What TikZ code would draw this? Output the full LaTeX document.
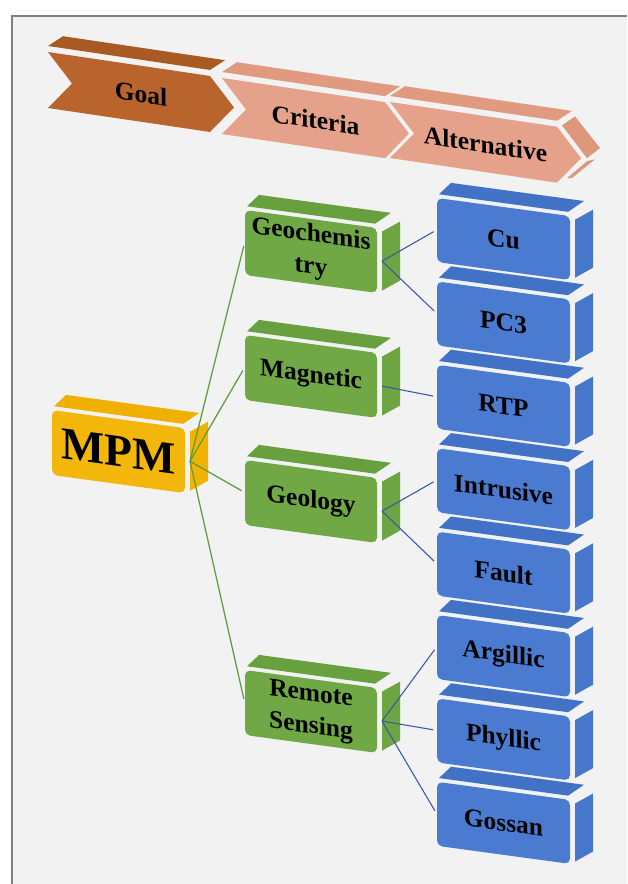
\documentclass[tikz,border=0pt]{standalone}
\usepackage{fontspec}
\setmainfont{Liberation Serif}
\usepackage{xcolor}
\definecolor{bgcol}{HTML}{F1F2F1}
\definecolor{framecol}{HTML}{808080}
\definecolor{goalcol}{HTML}{B8642C}
\definecolor{goalcoltop}{HTML}{A95A22}
\definecolor{headcol}{HTML}{E5A189}
\definecolor{headcoltop}{HTML}{E09A80}
\definecolor{headcolside}{HTML}{DD977C}
\definecolor{mpmcol}{HTML}{F3B70B}
\definecolor{mpmcoltop}{HTML}{EFB000}
\definecolor{mpmcolside}{HTML}{F2B300}
\definecolor{critcol}{HTML}{70A846}
\definecolor{critcoltop}{HTML}{69A03F}
\definecolor{critcolside}{HTML}{6DA543}
\definecolor{altcol}{HTML}{4A7BD0}
\definecolor{altcoltop}{HTML}{4272C6}
\definecolor{altcolside}{HTML}{4777CB}
\definecolor{greenln}{HTML}{5E9B3D}
\definecolor{blueln}{HTML}{3757A6}

\tikzset{
  boxface/.style={rounded corners=3pt, inner sep=0pt, align=center, transform shape,
    font=\fontsize{14.5}{18.5}\selectfont\bfseries},
  headtext/.style={transform shape, inner sep=0pt, font=\fontsize{14.5}{18.5}\selectfont\bfseries},
  tocrit/.style={draw=greenln, line width=0.7pt, shorten >=2pt},
  toalt/.style={draw=blueln, line width=0.6pt, shorten >=2pt}
}

% 3d block: name, x, y, width, height, colour, text
\newcommand{\blockbox}[7]{%
  \begin{scope}[shift={(#2,#3)},yslant=-0.136]
    \fill[#6top] (2,-4) -- (#4-2,-4) -- (#4+14,-17) -- (14,-17) -- cycle;
    \fill[#6side] (#4+5,3) -- (#4+23,-9.5) -- (#4+23,#5-15.5) -- (#4+5,#5-3) -- cycle;
    \node[boxface, fill=#6, minimum width=#4*0.02cm, minimum height=#5*0.02cm] (#1) at (#4/2,#5/2) {#7};
    \coordinate (#1-s) at (#4+5,#5/2);
  \end{scope}}

% header arrow: name, x, y, length, colour, text
\newcommand{\headarrow}[6]{%
  \begin{scope}[shift={(#2,#3)},yslant=-0.148]
    \fill[#5top] (0,-6) -- (#4,-6) -- (#4+15,-18) -- (15,-18) -- cycle;
    \fill[#5] (0,0) -- (#4,0) -- (#4+24,28) -- (#4,56) -- (0,56) -- (24,28) -- cycle;
    \node[headtext] (#1) at (#4/2+12,28) {#6};
  \end{scope}}

\begin{document}
\begin{tikzpicture}[x=0.02cm,y=-0.02cm]
\useasboundingbox (0,0) rectangle (627,884);
\fill[white] (0,0) rectangle (627,884);
\fill[bgcol] (12,16) rectangle (627,884);
\draw[framecol, line width=1.4pt] (12,884) -- (12,16) -- (627,16);

% header
\headarrow{goal}{48}{52}{162}{goalcol}{Goal}
\headarrow{crit}{222}{78}{163}{headcol}{Criteria}
\headarrow{alt}{390}{102}{167}{headcol}{Alternative}
\begin{scope}[shift={(390,102)},yslant=-0.148]
  \fill[headcolside] (172,-2) -- (185,-13) -- (210,15) -- (197,27) -- cycle;
  \fill[headcolside] (197,30) -- (205,27) -- (182,49) -- (177,50) -- cycle;
\end{scope}

% goal
\blockbox{mpm}{52}{410}{133}{65}{mpmcol}{\fontsize{26}{30}\selectfont MPM}

% criteria
\blockbox{geochem}{245}{210}{132}{65}{critcol}{Geochemis\\try}
\blockbox{magn}{245}{335}{132}{65}{critcol}{Magnetic}
\blockbox{geol}{245}{460}{132}{65}{critcol}{Geology}
\blockbox{rs}{245}{670}{132}{65}{critcol}{Remote\\Sensing}

% alternatives
\blockbox{cu}{437}{198}{133}{64}{altcol}{Cu}
\blockbox{pc}{437}{281.4}{133}{64}{altcol}{PC3}
\blockbox{rtp}{437}{364.8}{133}{64}{altcol}{RTP}
\blockbox{intr}{437}{448.2}{133}{64}{altcol}{Intrusive}
\blockbox{fault}{437}{531.6}{133}{64}{altcol}{Fault}
\blockbox{argil}{437}{615}{133}{64}{altcol}{Argillic}
\blockbox{phyl}{437}{698.4}{133}{64}{altcol}{Phyllic}
\blockbox{gossan}{437}{781.8}{133}{64}{altcol}{Gossan}

%
\draw[tocrit] (mpm-s) -- (geochem.west);
\draw[tocrit] (mpm-s) -- (magn.west);
\draw[tocrit] (mpm-s) -- (geol.west);
\draw[tocrit] (mpm-s) -- (rs.west);

%
\draw[toalt] (geochem-s) -- (cu.west);
\draw[toalt] (geochem-s) -- (pc.west);
\draw[toalt] (magn-s) -- (rtp.west);
\draw[toalt] (geol-s) -- (intr.west);
\draw[toalt] (geol-s) -- (fault.west);
\draw[toalt] (rs-s) -- (argil.west);
\draw[toalt] (rs-s) -- (phyl.west);
\draw[toalt] (rs-s) -- (gossan.west);
\end{tikzpicture}
\end{document}
